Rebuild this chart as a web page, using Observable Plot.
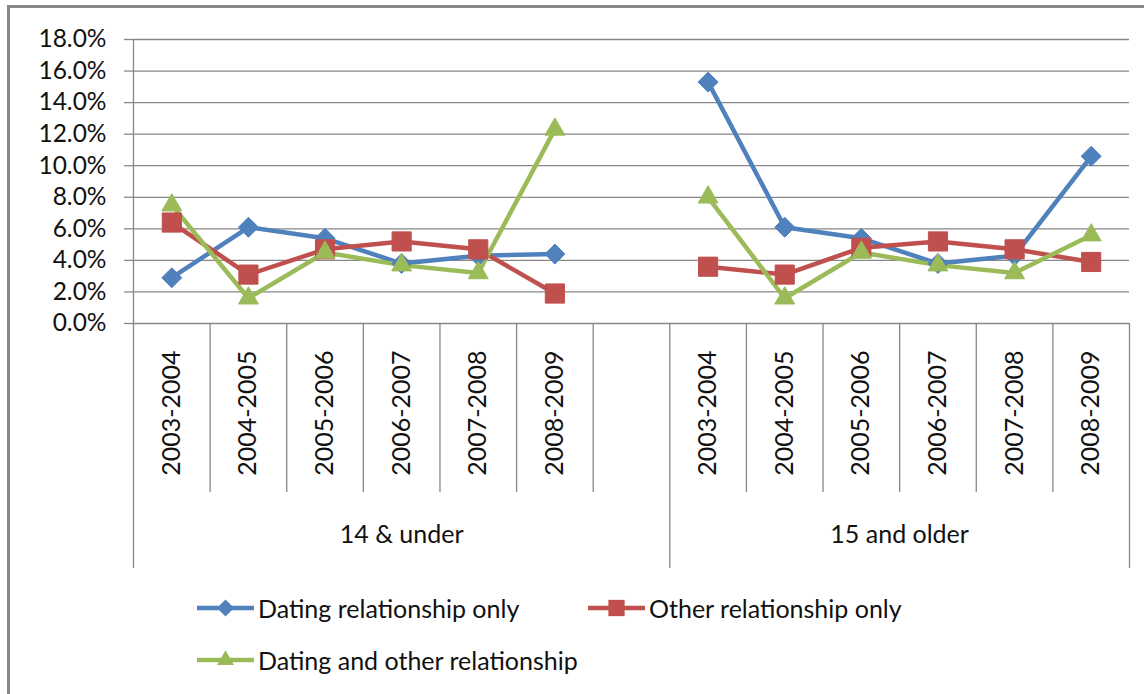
<!DOCTYPE html>
<html><head><meta charset="utf-8">
<script src="https://cdn.jsdelivr.net/npm/d3@7"></script>
<script src="https://cdn.jsdelivr.net/npm/@observablehq/plot@0.6"></script>
<style>
html,body{margin:0;padding:0;background:#fff;overflow:hidden;width:1144px;height:694px;}
#frame{position:absolute;left:7px;top:5px;width:1170px;height:730px;border:3px solid #888;box-sizing:border-box;}
#chart{position:absolute;left:0;top:0;}
#legend{position:absolute;left:0;top:0;width:1144px;height:694px;font-family:Lato,sans-serif;font-size:25px;color:#111;}
.item{position:absolute;display:flex;align-items:center;height:26px;white-space:nowrap;}
.item svg{margin-right:4px;}
</style></head><body>
<div id="frame"></div>
<div id="chart"></div>
<div id="legend"></div>
<script>
// ---- data ----
const years = ["2003-2004","2004-2005","2005-2006","2006-2007","2007-2008","2008-2009"];
const groups = ["14 & under","15 and older"];
const seriesNames = ["Dating relationship only","Other relationship only","Dating and other relationship"];
const seriesColors = ["#4F81BD","#C0504D","#9BBB59"];
const seriesSymbols = ["diamond2","square","triangle"];
const datingUnder14 = [2.9, 6.1, 5.4, 3.8, 4.3, 4.4];
const otherUnder14  = [6.4, 3.1, 4.7, 5.2, 4.7, 1.9];
const bothUnder14   = [7.5, 1.6, 4.5, 3.7, 3.2, 12.3];
const dating15Older = [15.3, 6.1, 5.4, 3.8, 4.3, 10.6];
const other15Older  = [3.6, 3.1, 4.8, 5.2, 4.7, 3.9];
const both15Older   = [8.0, 1.6, 4.5, 3.7, 3.2, 5.6];
const yTicks = [0, 2, 4, 6, 8, 10, 12, 14, 16, 18];

// ---- table built from the arrays ----
const valuesBy = [
  [datingUnder14, dating15Older],
  [otherUnder14, other15Older],
  [bothUnder14, both15Older]
];
const slotsPerGroup = years.length + 1; // one empty slot between groups
const rows = [];
seriesNames.forEach((s, si) => groups.forEach((g, gi) => years.forEach((y, yi) => {
  rows.push({series: s, group: g, year: y, slot: gi * slotsPerGroup + yi, value: valuesBy[si][gi][yi]});
})));
const nSlots = groups.length * years.length + (groups.length - 1);
const slotLabel = new Map(rows.map(d => [d.slot, d.year]));
const slots = [...slotLabel.keys()];
const groupStart = groups.map((g, gi) => gi * slotsPerGroup - 0.5);
const groupEnd = groups.map((g, gi) => gi === groups.length - 1 ? nSlots - 0.5 : (gi + 1) * slotsPerGroup - 0.5);
const groupCenter = groups.map((g, gi) => (groupStart[gi] + groupEnd[gi]) / 2);
const longBounds = [...new Set([...groupStart, ...groupEnd])];
const shortBounds = d3.range(-0.5, nSlots, 1).filter(b => !longBounds.includes(b));
const groupLabel = new Map(groupCenter.map((c, i) => [c, groups[i]]));

const gridColor = "#878787";
const font = "Lato, sans-serif";

const marks = [
  Plot.gridY(yTicks, {stroke: gridColor, strokeOpacity: 1, strokeWidth: 1.3}),
  Plot.ruleX([-0.5], {stroke: gridColor, strokeWidth: 1.3}),
  Plot.axisY(yTicks, {tickSize: 9, tickPadding: 18, stroke: gridColor, strokeWidth: 1.3,
    tickFormat: d => d.toFixed(1) + "%", label: null, fontSize: 24.5, fill: "#111"}),
  Plot.axisX(shortBounds, {tickSize: 169, tickPadding: 0, tickFormat: () => "", stroke: gridColor, strokeWidth: 1.3, label: null}),
  Plot.axisX(longBounds, {tickSize: 245, tickPadding: 0, tickFormat: () => "", stroke: gridColor, strokeWidth: 1.3, label: null}),
  Plot.axisX(slots, {tickSize: 0, tickRotate: -90, tickPadding: 27, tickFormat: s => slotLabel.get(s), label: null, fontSize: 25, fill: "#111"}),
  Plot.axisX(groupCenter, {tickSize: 0, tickPadding: 202, tickFormat: c => groupLabel.get(c), label: null, fontSize: 25, fill: "#111"})
];
seriesNames.forEach((s, si) => {
  const data = rows.filter(d => d.series === s);
  marks.push(Plot.line(data, {x: "slot", y: "value", z: "group", stroke: seriesColors[si], strokeWidth: 4.5}));
});
const rBy = {diamond2: 9, square: 10.8, triangle: 7.4};
seriesNames.forEach((s, si) => {
  const data = rows.filter(d => d.series === s);
  marks.push(Plot.dot(data, {x: "slot", y: "value", symbol: () => seriesSymbols[si], r: rBy[seriesSymbols[si]],
    fill: seriesColors[si], stroke: seriesColors[si], strokeWidth: 1}));
});

const chart = Plot.plot({
  width: 1144,
  height: 580,
  marginLeft: 133,
  marginRight: 15,
  marginTop: 39,
  marginBottom: 257,
  style: {fontFamily: font, fontSize: "25px", color: "#111", background: "transparent", overflow: "visible"},
  x: {domain: [-0.5, nSlots - 0.5], axis: null},
  y: {domain: [yTicks[0], yTicks[yTicks.length - 1]], axis: null},
  symbol: {type: "identity"},
  marks
});
document.getElementById("chart").appendChild(chart);

// ---- legend (below the plot area, HTML) ----
const legendPos = [[197, 608], [588, 608], [197, 660]];
const legend = document.getElementById("legend");
seriesNames.forEach((s, si) => {
  const item = document.createElement("div");
  item.className = "item";
  item.style.left = legendPos[si][0] + "px";
  item.style.top = (legendPos[si][1] - 13) + "px";
  const sw = d3.create("svg").attr("width", 57).attr("height", 26);
  sw.append("line").attr("x1", 0).attr("x2", 57).attr("y1", 13).attr("y2", 13)
    .attr("stroke", seriesColors[si]).attr("stroke-width", 4.5);
  const symMap = {diamond2: d3.symbolDiamond2, square: d3.symbolSquare, triangle: d3.symbolTriangle};
  const r = rBy[seriesSymbols[si]] * 0.85;
  sw.append("path").attr("transform", "translate(28.5,13)")
    .attr("d", d3.symbol(symMap[seriesSymbols[si]], Math.PI * r * r)())
    .attr("fill", seriesColors[si]);
  item.appendChild(sw.node());
  const t = document.createElement("span");
  t.textContent = s;
  item.appendChild(t);
  legend.appendChild(item);
});
</script>
</body></html>
